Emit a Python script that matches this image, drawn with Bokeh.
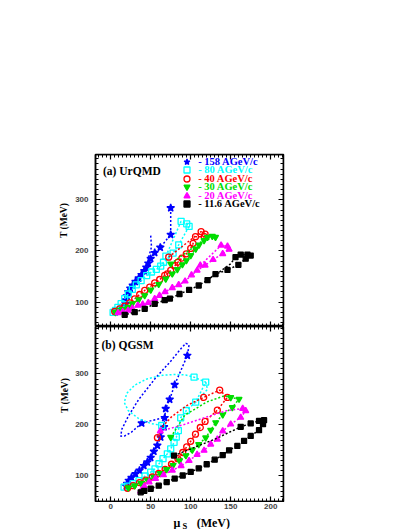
import math
from bokeh.plotting import figure
from bokeh.models import Range1d, LinearAxis, SingleIntervalTicker, Label, Legend, LegendItem
from bokeh.layouts import column, row
from bokeh.embed import file_html
from bokeh.resources import INLINE

NaN = float("nan")

# ---------------- data ----------------
legend_labels = ["- 158 AGeV/c", "- 80 AGeV/c", "- 40 AGeV/c", "- 30 AGeV/c", "- 20 AGeV/c", "- 11.6 AGeV/c"]
colors = ["#0000ff", "#00ffff", "#ff0000", "#00dd00", "#ff00ff", "#000000"]
marker_types = ["star", "square", "circle", "inverted_triangle", "triangle", "square"]
marker_filled = [True, False, False, True, True, True]
marker_sizes = [8, 6, 6, 6, 6, 5]

# (a) UrQMD : markers (time order), dotted loop between first and second marker, extra dotted piece
u158_mu = [75, 75, 62, 55, 50, 47, 44.5, 42, 38.5, 35, 31, 27.5, 24.5, 22, 20, 19, 18.5, 17.5, 12, 6]
u158_T = [284, 232, 207, 196.5, 185, 176, 168, 161, 153.5, 147, 140, 133, 127, 120, 112, 104, 97, 92, 86, 81]
u158_loop_mu, u158_loop_T = [], []
u158_extra_mu = [50, 51, 47]
u158_extra_T = [230, 208, 185]

u80_mu = [69, 88, 95, 98, 85, 78, 66, 62.5, 57, 51, 45, 38, 32, 27, 22, 17.5, 13, 9, 6, 3]
u80_T = [190, 258, 253, 248, 212, 196, 178, 170.5, 164, 159, 152, 142, 134, 125, 116, 107, 97, 90, 84, 80]
u80_loop_mu, u80_loop_T = [], []
u80_extra_mu, u80_extra_T = [], []

u40_mu = [72.5, 113, 118, 117, 106, 103, 100, 94.5, 89, 84, 80.5, 75, 70.8, 67.5, 61.25, 55, 48.75, 42.5, 36.25, 30, 23.75, 17.5, 11.25, 5]
u40_T = [188, 238, 233, 228, 228, 215, 205, 194.5, 186, 178, 171.7, 162, 155.4, 152.2, 144.3, 137.8, 129.4, 122.9, 115, 106.6, 98.8, 92.3, 87, 81.8]
u40_loop_mu, u40_loop_T = [], []
u40_extra_mu, u40_extra_T = [], []

u30_mu = [75, 121, 127, 131, 116.7, 110.4, 106.25, 100, 94.6, 89.6, 83.3, 77, 68.75, 60, 50, 42.5, 35, 27, 21.7, 15, 11.25, 6]
u30_T = [175, 227, 229, 227, 220.5, 212, 204.2, 191.2, 181.4, 173.6, 163.9, 155.4, 145.6, 135, 124, 113, 105, 97, 90.3, 86, 83.8, 80]
u30_loop_mu, u30_loop_T = [], []
u30_extra_mu, u30_extra_T = [], []

u20_mu = [112, 138, 146, 148, 140, 128, 118, 108, 101, 93, 85, 77, 68, 61, 55, 47, 40, 34, 27, 21.7, 15, 9.2]
u20_T = [172, 211, 209, 203, 194.5, 183, 172, 162, 153, 141, 134, 128, 120, 113, 106.6, 99, 96, 93.6, 88, 83.8, 81, 79.2]
u20_loop_mu, u20_loop_T = [], []
u20_extra_mu, u20_extra_T = [], []

u116_mu = [156, 162.5, 171, 175, 168.75, 159.6, 146, 131, 121, 110, 98, 86, 74, 67.5, 55, 42.5, 30, 17.5]
u116_T = [188, 193, 193, 191, 185, 173, 163, 155, 143, 132.6, 124, 116, 107, 104, 96.8, 87, 80.5, 75.3]
u116_loop_mu, u116_loop_T = [], []
u116_extra_mu = [119, 135, 150, 156]
u116_extra_T = [142, 158, 175, 188]

# (b) QGSM
q158_mu = [38.75, 95.8, 80, 73.75, 68.75, 67.5, 66.7, 62.5, 58.3, 54, 50, 45.8, 41.5, 36, 31, 26, 22.5, 20.5, 19.5]
q158_T = [203.6, 336, 279, 250, 232, 214, 196, 176, 160, 148, 136, 127, 120, 111, 104, 97, 91, 85, 80]
q158_loop_mu = [26, 17.5, 12.5, 14, 22, 35, 55, 75, 88, 94, 98]
q158_loop_T = [186, 178.5, 178, 192, 217, 250, 290, 325, 350, 360, 357]
q158_extra_mu = [38.75, 52, 66]
q158_extra_T = [203.6, 209, 214]

q80_mu = [63.75, 104.2, 118.75, 106.25, 94.6, 87.5, 84.6, 82, 79.2, 75, 70.8, 65.4, 60.4, 55.4, 50, 42.9, 35.4, 27.9, 20.8, 16.7]
q80_T = [199, 293.7, 284, 244.7, 228.4, 214, 189, 176, 166, 153, 143.5, 134, 124, 114, 107.5, 100, 91, 85, 80, 78]
q80_loop_mu = [50, 35.4, 22, 17, 20, 30, 45, 65, 80, 93.75]
q80_loop_T = [203, 212, 228, 244, 262, 278, 290, 297.5, 299, 298]
q80_extra_mu = [118.75, 121, 106.25]
q80_extra_T = [284, 270, 244.7]

q40_mu = [58.4, 116.25, 136.25, 145.8, 133.3, 118, 112, 106, 100, 95, 90, 84, 76, 68, 60, 52, 44, 36, 28, 21]
q40_T = [175, 254, 268.4, 254, 229, 207, 195, 182, 168, 157, 146, 134, 123, 113, 105, 98, 92, 87, 81, 76]
q40_loop_mu = [65, 76, 95]
q40_loop_T = [197, 216, 238]
q40_extra_mu, q40_extra_T = [], []

q30_mu = [75, 150, 160.4, 152, 140, 131.25, 125, 118.75, 110, 102, 94, 86, 78, 70, 62, 54, 46, 38, 30, 22]
q30_T = [176, 254, 250.8, 234.3, 220, 204.8, 190, 175, 162, 151, 140, 130, 121, 113, 105, 98, 92, 86, 81, 77]
q30_loop_mu = [80, 92.5, 120, 141.7]
q30_loop_T = [188, 219, 245, 257]
q30_extra_mu, q30_extra_T = [], []

q20_mu = [62, 165, 168.75, 162.5, 150, 140, 133.3, 125, 116.7, 108, 98, 88, 77, 66, 56, 48, 42, 39, 37.5]
q20_T = [188, 232, 227.8, 214.7, 201.5, 188, 172, 162, 150, 142, 130, 120, 111, 102, 95, 88, 80, 73, 70]
q20_loop_mu = [90, 118.75, 145]
q20_loop_T = [200, 215, 228]
q20_extra_mu, q20_extra_T = [], []

q116_mu = [79.2, 162.5, 175, 185.4, 191.7, 190.4, 185.4, 175, 166.7, 158.3, 148, 140, 130, 120, 110, 100, 90, 80, 70, 60, 50, 42, 37.5]
q116_T = [140, 196.3, 203, 208, 209.4, 201.6, 189.7, 178.6, 168.8, 158.9, 150.4, 141, 132, 123, 115, 108, 101, 95, 88, 81, 75, 71, 68]
q116_loop_mu = [100, 130]
q116_loop_T = [153, 172]
q116_extra_mu, q116_extra_T = [], []

urqmd = [
    (u158_mu, u158_T, u158_loop_mu, u158_loop_T, u158_extra_mu, u158_extra_T),
    (u80_mu, u80_T, u80_loop_mu, u80_loop_T, u80_extra_mu, u80_extra_T),
    (u40_mu, u40_T, u40_loop_mu, u40_loop_T, u40_extra_mu, u40_extra_T),
    (u30_mu, u30_T, u30_loop_mu, u30_loop_T, u30_extra_mu, u30_extra_T),
    (u20_mu, u20_T, u20_loop_mu, u20_loop_T, u20_extra_mu, u20_extra_T),
    (u116_mu, u116_T, u116_loop_mu, u116_loop_T, u116_extra_mu, u116_extra_T),
]
qgsm = [
    (q158_mu, q158_T, q158_loop_mu, q158_loop_T, q158_extra_mu, q158_extra_T),
    (q80_mu, q80_T, q80_loop_mu, q80_loop_T, q80_extra_mu, q80_extra_T),
    (q40_mu, q40_T, q40_loop_mu, q40_loop_T, q40_extra_mu, q40_extra_T),
    (q30_mu, q30_T, q30_loop_mu, q30_loop_T, q30_extra_mu, q30_extra_T),
    (q20_mu, q20_T, q20_loop_mu, q20_loop_T, q20_extra_mu, q20_extra_T),
    (q116_mu, q116_T, q116_loop_mu, q116_loop_T, q116_extra_mu, q116_extra_T),
]

# ---------------- layout constants (page pixels, page has no margin) ----------------
SERIF = "Liberation Serif"
SANS = "Liberation Sans"
PAGE_H = 529
X0, X1 = -19, 216
YFIG_W = 72
FRAME_L = 95
BL = FRAME_L - YFIG_W
BR = 12
FRAME_W = 188
W = BL + FRAME_W + BR

TOP_Y = (52.5, 388.5)
TOP_FRAME_TOP, TOP_FRAME_H = 154, 172
BOT_Y = (50, 393)
BOT_FRAME_TOP, BOT_FRAME_H = 326, 175
XFIG_TOP = BOT_FRAME_TOP + BOT_FRAME_H + 1
XFIG_H = PAGE_H - XFIG_TOP


def x_of(px):
    return X0 + (px - FRAME_L) * (X1 - X0) / FRAME_W


def top_y(py):
    return TOP_Y[1] - (py - TOP_FRAME_TOP) * (TOP_Y[1] - TOP_Y[0]) / TOP_FRAME_H


def bot_y(py):
    return BOT_Y[1] - (py - BOT_FRAME_TOP) * (BOT_Y[1] - BOT_Y[0]) / BOT_FRAME_H


def x_title_y(py):
    return PAGE_H - py


def blank_fig(width, height, xr, yr, **kw):
    p = figure(width=width, height=height, x_range=xr, y_range=yr,
               output_backend="svg", toolbar_location=None,
               x_axis_location=None, y_axis_location=None, **kw)
    p.grid.visible = False
    p.background_fill_color = "white"
    p.border_fill_color = "white"
    return p


def make_panel(height, btop, bbot, yr):
    p = blank_fig(W, height, Range1d(X0, X1), Range1d(*yr),
                  min_border_left=BL, min_border_right=BR,
                  min_border_top=btop, min_border_bottom=bbot)
    p.outline_line_color = "black"
    p.outline_line_width = 1.5
    return p


def style_axis(ax, labels):
    ax.major_tick_in = 5
    ax.major_tick_out = 0
    ax.minor_tick_in = 3
    ax.minor_tick_out = 0
    ax.axis_line_width = 1.5
    ax.major_tick_line_width = 1.2
    ax.minor_tick_line_width = 1
    ax.major_label_text_font = SANS
    ax.major_label_text_font_style = "bold"
    ax.major_label_text_font_size = "8px"
    if not labels:
        ax.major_label_text_color = None


def add_axes(p, yr):
    bx = LinearAxis(ticker=SingleIntervalTicker(interval=50, num_minor_ticks=10), fixed_location=yr[0])
    style_axis(bx, False)
    p.add_layout(bx, "below")
    ax = LinearAxis(ticker=SingleIntervalTicker(interval=50, num_minor_ticks=10), fixed_location=yr[1])
    style_axis(ax, False)
    p.add_layout(ax, "above")
    ly = LinearAxis(ticker=SingleIntervalTicker(interval=100, num_minor_ticks=10))
    style_axis(ly, True)
    ly.major_label_standoff = 7
    p.add_layout(ly, "left")
    ry = LinearAxis(ticker=SingleIntervalTicker(interval=100, num_minor_ticks=10), fixed_location=X1)
    style_axis(ry, False)
    p.add_layout(ry, "right")


def draw_series(p, data, k):
    mu, T, lmu, lT, emu, eT = data
    c = colors[k]
    lx = mu[:1] + lmu + mu[1:]
    ly = T[:1] + lT + T[1:]
    if emu:
        lx = lx + [NaN] + emu
        ly = ly + [NaN] + eT
    p.line(lx, ly, line_color=c, line_width=1.5, line_dash="2 2")
    r = p.scatter(mu, T, marker=marker_types[k], size=marker_sizes[k], line_color=c,
                  fill_color=c if marker_filled[k] else None, line_width=1.3)
    return r


def add_text(p, x, y, text, size, angle=0.0, align="left", baseline="alphabetic", color="black"):
    p.add_layout(Label(x=x, y=y, text=text, text_font=SERIF, text_font_size=size,
                       text_font_style="bold", angle=angle, text_align=align,
                       text_baseline=baseline, text_color=color))


# ---------------- top panel (a) ----------------
top = make_panel(TOP_FRAME_TOP + TOP_FRAME_H, TOP_FRAME_TOP, 0, TOP_Y)
add_axes(top, TOP_Y)
renderers = [draw_series(top, d, k) for k, d in enumerate(urqmd)]
add_text(top, x_of(102.5), top_y(170.7), "(a) UrQMD", "11.5px")

row_centres = [161, 169.5, 178, 186.5, 195, 203.5]
G = 15
for k, r in enumerate(renderers):
    leg = Legend(items=[LegendItem(label=legend_labels[k], renderers=[r])],
                 location=(186.7 - FRAME_L - G / 2, (TOP_FRAME_TOP + TOP_FRAME_H) - row_centres[k] - G / 2),
                 padding=0, margin=0, spacing=0, glyph_width=G, glyph_height=G, label_height=G,
                 label_standoff=4, border_line_color=None, background_fill_alpha=0,
                 label_text_font=SERIF, label_text_font_style="bold", label_text_font_size="10.5px",
                 label_text_color=colors[k])
    top.add_layout(leg)

# ---------------- bottom panel (b) ----------------
bot = make_panel(BOT_FRAME_H + 1, 0, 1, BOT_Y)
add_axes(bot, BOT_Y)
for k, d in enumerate(qgsm):
    draw_series(bot, d, k)
add_text(bot, x_of(101), bot_y(344.5), "(b) QGSM", "11.5px")

# ---------------- x tick labels and x title strip ----------------
xfig = blank_fig(W, XFIG_H, top.x_range, Range1d(0, XFIG_H),
                 min_border_left=BL, min_border_right=BR, min_border_top=0, min_border_bottom=0)
xfig.outline_line_color = None
xl = LinearAxis(ticker=SingleIntervalTicker(interval=50, num_minor_ticks=10), fixed_location=XFIG_H)
style_axis(xl, True)
xl.major_tick_in = 0
xl.minor_tick_in = 0
xl.axis_line_color = None
xl.major_tick_line_color = None
xl.minor_tick_line_color = None
xl.major_label_standoff = 1
xfig.add_layout(xl, "below")
add_text(xfig, x_of(173), x_title_y(522), "\u03bc", "12px")
add_text(xfig, x_of(182), x_title_y(525), "S", "8.5px")
add_text(xfig, x_of(229.5), x_title_y(522), "(MeV)", "12px", align="right")

# ---------------- y title strip ----------------
yfig = blank_fig(YFIG_W, PAGE_H, Range1d(0, YFIG_W), Range1d(0, PAGE_H),
                 min_border_left=0, min_border_right=0, min_border_top=0, min_border_bottom=0)
yfig.outline_line_color = None
add_text(yfig, 63, PAGE_H - 220, "T (MeV)", "9.5px", angle=math.pi / 2, align="center", baseline="middle")
add_text(yfig, 64, PAGE_H - 395, "T (MeV)", "9.5px", angle=math.pi / 2, align="center", baseline="middle")

layout = row(yfig, column(top, bot, xfig, spacing=0), spacing=0)
open("out.html", "w").write(file_html(layout, INLINE))
